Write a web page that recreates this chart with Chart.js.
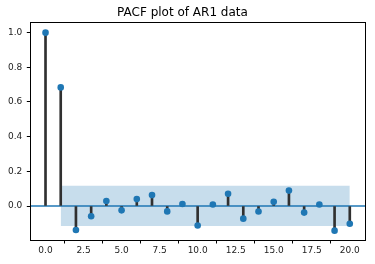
<!DOCTYPE html>
<html>
<head>
<meta charset="utf-8">
<script src="https://cdn.jsdelivr.net/npm/chart.js@4/dist/chart.umd.min.js"></script>
<style>
html,body{margin:0;padding:0;background:#fff;}
#wrap{width:375px;height:264px;position:relative;}
</style>
</head>
<body>
<div id="wrap"><canvas id="c" width="375" height="264"></canvas></div>
<script>
const titleText = "PACF plot of AR1 data";
const lags = [0,1,2,3,4,5,6,7,8,9,10,11,12,13,14,15,16,17,18,19,20];
const pacfValues = [1.0,0.684,-0.138,-0.059,0.029,-0.025,0.040,0.063,-0.031,0.012,-0.112,0.009,0.071,-0.073,-0.032,0.025,0.089,-0.038,0.009,-0.142,-0.102];
const bandLags = [1, 20];
const bandUpper = [0.117, 0.117];
const bandLower = [-0.115, -0.115];
const xTicks = [0,2.5,5,7.5,10,12.5,15,17.5,20];
const yTicks = [0,0.2,0.4,0.6,0.8,1.0];
const xRange = [-1, 21];
const yRange = [-0.196, 1.059];

const blue = '#1f77b4';
const font = {family: 'DejaVu Sans', size: 9};

const frame = {
  id: 'frame',
  afterDraw(chart) {
    const a = chart.chartArea, ctx = chart.ctx;
    ctx.save();
    ctx.strokeStyle = '#000';
    ctx.lineWidth = 1;
    ctx.strokeRect(Math.round(a.left)+0.5, Math.round(a.top)+0.5, Math.round(a.right-a.left), Math.round(a.bottom-a.top));
    ctx.restore();
  }
};

new Chart(document.getElementById('c'), {
  type: 'bar',
  data: {
    datasets: [
      {
        type: 'scatter',
        data: lags.map((x,i)=>({x, y: pacfValues[i]})),
        backgroundColor: blue,
        borderColor: blue,
        pointRadius: 3.3,
        pointBorderWidth: 0,
        order: 0
      },
      {
        type: 'bar',
        data: lags.map((x,i)=>({x, y: [0, pacfValues[i]]})),
        backgroundColor: '#303030',
        borderWidth: 0,
        barThickness: 2,
        order: 1
      },
      {
        type: 'line',
        data: [{x: xRange[0], y: 0}, {x: xRange[1], y: 0}],
        borderColor: blue,
        borderWidth: 1.6,
        pointRadius: 0,
        fill: false,
        order: 2
      },
      {
        type: 'line',
        data: bandLags.map((x,i)=>({x, y: bandUpper[i]})),
        borderWidth: 0,
        borderColor: 'rgba(0,0,0,0)',
        backgroundColor: 'rgba(31,119,180,0.25)',
        pointRadius: 0,
        fill: '+1',
        order: 3
      },
      {
        type: 'line',
        data: bandLags.map((x,i)=>({x, y: bandLower[i]})),
        borderWidth: 0,
        borderColor: 'rgba(0,0,0,0)',
        pointRadius: 0,
        fill: false,
        order: 4
      }
    ]
  },
  options: {
    responsive: false,
    animation: false,
    layout: {padding: {left: 0, right: 10, top: 0, bottom: 0}},
    plugins: {
      legend: {display: false},
      tooltip: {enabled: false},
      title: {
        display: true,
        text: titleText,
        color: '#000',
        font: {family: 'DejaVu Sans', size: 12, weight: 'normal'},
        padding: {top: 6, bottom: 2}
      }
    },
    scales: {
      x: {
        type: 'linear',
        min: xRange[0], max: xRange[1],
        offset: false,
        afterBuildTicks: s => { s.ticks = xTicks.map(v=>({value: v})); },
        afterFit: s => { s.height = 24; },
        ticks: {
          font, color: '#222', padding: 2, maxRotation: 0,
          callback: v => Number(v).toFixed(1)
        },
        grid: {drawOnChartArea: false, drawTicks: true, tickLength: 3.5, tickColor: '#000'},
        border: {display: true, color: '#000', width: 1}
      },
      y: {
        type: 'linear',
        min: yRange[0], max: yRange[1],
        afterBuildTicks: s => { s.ticks = yTicks.map(v=>({value: v})); },
        afterFit: s => { s.width = 30.3; },
        ticks: {
          font, color: '#222', padding: 4.5,
          callback: v => Number(v).toFixed(1)
        },
        grid: {drawOnChartArea: false, drawTicks: true, tickLength: 3.5, tickColor: '#000'},
        border: {display: true, color: '#000', width: 1}
      }
    }
  },
  plugins: [frame]
});
</script>
</body>
</html>
